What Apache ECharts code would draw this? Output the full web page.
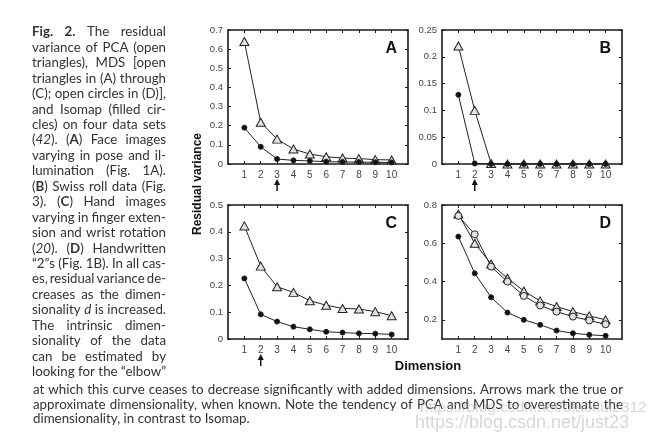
<!DOCTYPE html>
<html>
<head>
<meta charset="utf-8">
<script src="https://cdn.jsdelivr.net/npm/echarts@6/dist/echarts.min.js"></script>
<style>
  html, body { margin: 0; padding: 0; background: #fff; }
  #chart { width: 664px; height: 434px; }
</style>
</head>
<body>
<div id="chart"></div>
<script>
// dimension (x) values, shared by all four panels
const dims = [1, 2, 3, 4, 5, 6, 7, 8, 9, 10];

// residual variance
const pcaA = [0.64, 0.218, 0.13, 0.078, 0.052, 0.038, 0.031, 0.028, 0.023, 0.021];
const isoA = [0.19, 0.09, 0.026, 0.019, 0.016, 0.012, 0.011, 0.01, 0.009, 0.008];
const pcaB = [0.22, 0.1, 0.001, 0, 0, 0, 0, 0, 0, 0];
const isoB = [0.129, 0.001, 0, 0, 0, 0, 0, 0, 0, 0];
const pcaC = [0.422, 0.272, 0.195, 0.174, 0.143, 0.126, 0.114, 0.112, 0.102, 0.087];
const isoC = [0.226, 0.092, 0.065, 0.046, 0.036, 0.027, 0.024, 0.021, 0.02, 0.017];
const pcaD = [0.753, 0.6, 0.492, 0.417, 0.351, 0.299, 0.27, 0.243, 0.221, 0.2];
const mdsD = [0.743, 0.647, 0.478, 0.4, 0.325, 0.275, 0.243, 0.217, 0.197, 0.177];
const isoD = [0.635, 0.443, 0.318, 0.238, 0.2, 0.174, 0.144, 0.13, 0.122, 0.117];

// tick labels
const yTicksA = [0, 0.1, 0.2, 0.3, 0.4, 0.5, 0.6, 0.7];
const yTicksB = [0, 0.05, 0.1, 0.15, 0.2, 0.25];
const yTicksC = [0, 0.1, 0.2, 0.3, 0.4, 0.5];
const yTicksD = [0.2, 0.4, 0.6, 0.8];
const panelNames = ["A", "B", "C", "D"];
// true dimensionality arrows (none in D)
const arrowDims = [3, 2, 2, null];

const captionLines = [
  "**Fig.** **2.** The residual",
  "variance of PCA (open",
  "triangles), MDS [open",
  "triangles in (A) through",
  "(C); open circles in (D)],",
  "and Isomap (filled cir-",
  "cles) on four data sets",
  "(_42_). (**A**) Face images",
  "varying in pose and il-",
  "lumination (Fig. 1A).",
  "(**B**) Swiss roll data (Fig.",
  "3). (**C**) Hand images",
  "varying in finger exten-",
  "sion and wrist rotation",
  "(_20_). (**D**) Handwritten",
  "\u201c2\u201ds (Fig. 1B). In all cas-",
  "es, residual variance de-",
  "creases as the dimen-",
  "sionality _d_ is increased.",
  "The intrinsic dimen-",
  "sionality of the data",
  "can be estimated by",
  "looking for the \u201celbow\u201d",
];
const bottomLines = [
  "at which this curve ceases to decrease significantly with added dimensions. Arrows mark the true or",
  "approximate dimensionality, when known. Note the tendency of PCA and MDS to overestimate the",
  "dimensionality, in contrast to Isomap.",
];

const panels = [
  { left: 228, top: 30, yMin: 0, yMax: 0.7, yInt: 0.1, ticks: yTicksA },
  { left: 442, top: 30, yMin: 0, yMax: 0.25, yInt: 0.05, ticks: yTicksB },
  { left: 228, top: 205, yMin: 0, yMax: 0.5, yInt: 0.1, ticks: yTicksC },
  { left: 442, top: 205, yMin: 0.1, yMax: 0.8, yInt: 0.1, ticks: yTicksD },
];
const PW = 180, PH = 134;
const ink = "#1a1a1a";
const txt = "#333";

const chart = echarts.init(document.getElementById("chart"), null, { renderer: "canvas" });

const edge = { show: true, onZero: false, lineStyle: { color: ink, width: 1.6 } };
const tick = (vals) => ({ show: true, inside: true, length: 3, customValues: vals, lineStyle: { color: ink, width: 1 } });

const grid = [], xAxis = [], yAxis = [];
panels.forEach((p, i) => {
  grid.push({ left: p.left, top: p.top, width: PW, height: PH, containLabel: false });
});
// bottom/left axes first, then mirrored top/right ones
[0, 1].forEach((mirror) => {
  panels.forEach((p, i) => {
    xAxis.push({
      type: "value", gridIndex: i, position: mirror ? "top" : "bottom",
      min: 0, max: 11, interval: 1,
      axisLine: edge, axisTick: tick(dims), splitLine: { show: false },
      axisLabel: mirror ? { show: false } : {
        show: true, customValues: dims, color: "#444", fontSize: 10,
        fontFamily: "Liberation Sans", margin: 6,
      },
    });
    yAxis.push({
      type: "value", gridIndex: i, position: mirror ? "right" : "left",
      min: p.yMin, max: p.yMax, interval: p.yInt,
      axisLine: edge, axisTick: tick(p.ticks), splitLine: { show: false },
      axisLabel: mirror ? { show: false } : {
        show: true, customValues: p.ticks, color: "#444", fontSize: 9.5,
        fontFamily: "Liberation Sans", margin: 5,
      },
    });
  });
});

const lineSeries = (i, values, symbol, size, fill, z) => ({
  type: "line", xAxisIndex: i, yAxisIndex: i, z: z,
  data: dims.map((d, k) => [d, values[k]]),
  symbol: symbol, symbolSize: size, showSymbol: true,
  lineStyle: { color: "#222", width: 1 },
  itemStyle: { color: fill, borderColor: "#222", borderWidth: 1 },
  emphasis: { disabled: true },
  animation: false,
});
const tri = [9, 8], dot = 5, ring = 7;
const triFill = "#e2e2e2";

const series = [
  lineSeries(0, pcaA, "triangle", tri, triFill, 2),
  lineSeries(0, isoA, "circle", dot, "#111", 3),
  lineSeries(1, pcaB, "triangle", tri, triFill, 2),
  lineSeries(1, isoB, "circle", dot, "#111", 3),
  lineSeries(2, pcaC, "triangle", tri, triFill, 2),
  lineSeries(2, isoC, "circle", dot, "#111", 3),
  lineSeries(3, pcaD, "triangle", tri, triFill, 2),
  lineSeries(3, mdsD, "circle", ring, triFill, 2),
  lineSeries(3, isoD, "circle", dot, "#111", 3),
];

let option = { animation: false, grid, xAxis, yAxis, series };
chart.setOption(option);

// ---- caption text, justified word by word ----
const ctx = document.createElement("canvas").getContext("2d");
const family = "Lato";
const fontOf = (s, fs) => (s.i ? "italic " : "") + (s.b ? "bold " : "") + fs + "px " + family;
function parseWord(w) {
  const segs = [];
  const re = /\*\*(.+?)\*\*|_(.+?)_/g;
  let last = 0, m;
  while ((m = re.exec(w))) {
    if (m.index > last) segs.push({ t: w.slice(last, m.index) });
    if (m[1] != null) segs.push({ t: m[1], b: true });
    else segs.push({ t: m[2], i: true });
    last = re.lastIndex;
  }
  if (last < w.length) segs.push({ t: w.slice(last) });
  return segs;
}
function measure(segs, fs) {
  let w = 0;
  segs.forEach((s) => { ctx.font = fontOf(s, fs); s.w = ctx.measureText(s.t).width; w += s.w; });
  return w;
}
ctx.font = "13px " + family;
const fs = Math.max(11, Math.min(15, 13 * 217 / ctx.measureText(bottomLines[2]).width));

function layoutLine(str, left, y, width, justify) {
  const words = str.split(" ").map(parseWord);
  const widths = words.map((w) => measure(w, fs));
  ctx.font = fs + "px " + family;
  const space = ctx.measureText(" ").width;
  const total = widths.reduce((a, b) => a + b, 0);
  let gap = space, scale = 1;
  if (justify && words.length > 1) {
    gap = (width - total) / (words.length - 1);
    if (gap < space * 0.6) {
      gap = space * 0.6;
      scale = width / (total + gap * (words.length - 1));
    }
  }
  const children = [];
  let x = 0;
  words.forEach((segs, k) => {
    segs.forEach((s) => {
      children.push({
        type: "text", x: x, y: 0, silent: true,
        style: {
          text: s.t, fill: txt, fontSize: fs, fontFamily: family,
          fontWeight: s.b ? "bold" : "normal", fontStyle: s.i ? "italic" : "normal",
          align: "left", verticalAlign: "middle",
        },
      });
      x += s.w;
    });
    x += gap;
  });
  return { type: "group", x: left, y: y, scaleX: scale, children: children };
}

const graphic = [];
captionLines.forEach((l, k) => {
  graphic.push(layoutLine(l, 32, 32 + k * 15.45, 134, true));
});
bottomLines.forEach((l, k) => {
  graphic.push(layoutLine(l, 33, 390 + k * 14.5, 590, k < 2));
});

// panel letters
panels.forEach((p, i) => {
  graphic.push({
    type: "text", silent: true, x: p.left + PW - 11, y: p.top + 19,
    style: { text: panelNames[i], fill: "#111", fontSize: 16, fontWeight: "bold",
      fontFamily: "Liberation Sans", align: "right", verticalAlign: "middle" },
  });
});

// axis titles
graphic.push({
  type: "text", silent: true, x: 198, y: 184, rotation: Math.PI / 2,
  style: { text: "Residual variance", fill: "#111", fontSize: 12, fontWeight: "bold",
    fontFamily: "Liberation Sans", align: "center", verticalAlign: "middle" },
});
graphic.push({
  type: "text", silent: true, x: 428, y: 366,
  style: { text: "Dimension", fill: "#111", fontSize: 13, fontWeight: "bold",
    fontFamily: "Liberation Sans", align: "center", verticalAlign: "middle" },
});

// arrows under the true dimensionality
arrowDims.forEach((d, i) => {
  if (d == null) return;
  const x = chart.convertToPixel({ xAxisIndex: i }, d);
  const yTip = panels[i].top + PH + 15;
  graphic.push({
    type: "line", silent: true,
    shape: { x1: x, y1: yTip + 4, x2: x, y2: yTip + 12 },
    style: { stroke: "#111", lineWidth: 1.5 },
  });
  graphic.push({
    type: "polygon", silent: true,
    shape: { points: [[x, yTip], [x - 3, yTip + 6], [x + 3, yTip + 6]] },
    style: { fill: "#111" },
  });
});

// watermark
graphic.push({
  type: "text", silent: true, x: 420, y: 408,
  style: { text: "https://blog.csdn.net/diaokui2312", fill: "rgba(165,165,165,0.45)",
    fontSize: 15.5, fontFamily: "Liberation Sans Narrow, Liberation Sans", align: "left", verticalAlign: "middle" },
});
graphic.push({
  type: "text", silent: true, x: 415, y: 423,
  style: { text: "https://blog.csdn.net/just23", fill: "rgba(165,165,165,0.45)",
    fontSize: 18, fontFamily: "Liberation Sans Narrow, Liberation Sans", align: "left", verticalAlign: "middle" },
});

chart.setOption({ graphic: graphic });
</script>
</body>
</html>
